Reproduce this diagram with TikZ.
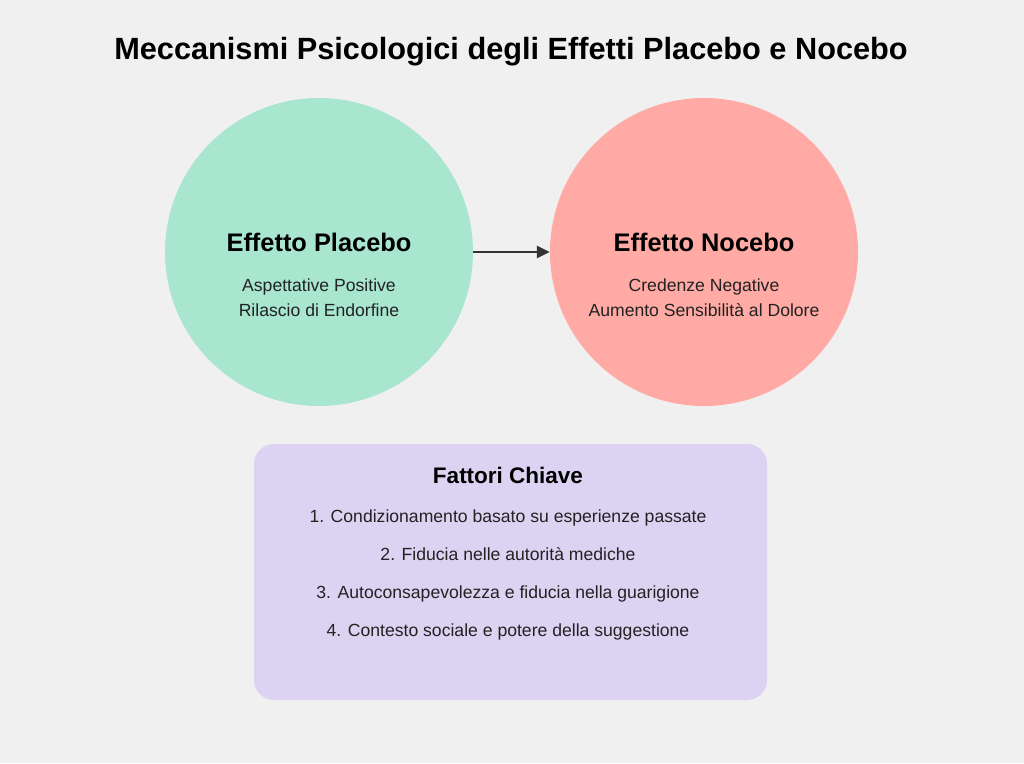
\documentclass[tikz,border=0pt]{standalone}
\usepackage{fontspec}
\setmainfont{Liberation Sans}
\usetikzlibrary{arrows.meta}
\definecolor{bg}{HTML}{F0F0F0}
\definecolor{placebo}{HTML}{A8E6CF}
\definecolor{nocebo}{HTML}{FFAAA5}
\definecolor{fattori}{HTML}{DCD3F2}
\definecolor{arrowc}{HTML}{333333}
\definecolor{txt}{HTML}{222222}
\tikzset{
  bubble/.style={circle, minimum size=308pt, inner sep=0pt},
  heading/.style={anchor=base, font=\fontsize{25.4}{29}\selectfont\bfseries, text=black},
  small/.style={anchor=base, font=\fontsize{17.6}{20}\selectfont, text=txt},
  boxhead/.style={anchor=base, font=\fontsize{22.5}{26}\selectfont\bfseries, text=black},
}
\begin{document}
\begin{tikzpicture}[x=1pt,y=-1pt]
\fill[bg] (0,0) rectangle (1024,763);
\useasboundingbox (0,0) rectangle (1024,763);
\node[anchor=base, font=\fontsize{30.7}{34}\selectfont\bfseries] (title) at (511,59) {Meccanismi Psicologici degli Effetti Placebo e Nocebo};
\node[bubble, fill=placebo] (pl) at (319,252) {};
\node[bubble, fill=nocebo] (no) at (704,252) {};
\draw[arrowc, line width=2.8pt, -{Triangle[length=13pt,width=12pt]}] (pl.east) -- (no.west);
\node[heading] (plh) at (319,251) {Effetto Placebo};
\node[small] (pl1) at (319,291) {Aspettative Positive};
\node[small] (pl2) at (319,316) {Rilascio di Endorfine};
\node[heading] (noh) at (704,251) {Effetto Nocebo};
\node[small] (no1) at (704,291) {Credenze Negative};
\node[small] (no2) at (704,316) {Aumento Sensibilità al Dolore};
\fill[fattori, rounded corners=20pt] (254,444) rectangle (767,700);
\node[boxhead] (fh) at (508,483) {Fattori Chiave};
\node[small] (f1) at (508,522) {1. Condizionamento basato su esperienze passate};
\node[small] (f2) at (508,560) {2. Fiducia nelle autorità mediche};
\node[small] (f3) at (508,598) {3. Autoconsapevolezza e fiducia nella guarigione};
\node[small] (f4) at (508,636) {4. Contesto sociale e potere della suggestione};
\end{tikzpicture}
\end{document}
